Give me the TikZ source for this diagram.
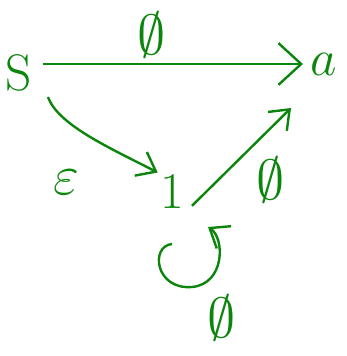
\documentclass[tikz,border=0pt]{standalone}
\usepackage{amsmath,amssymb}
\usetikzlibrary{arrows.meta,positioning}
\definecolor{penGreen}{HTML}{0C850C}
\begin{document}
\begin{tikzpicture}[x=0.75pt, y=-0.75pt,
  st/.style={text=penGreen, inner sep=1pt, font=\fontsize{24.88}{30}\selectfont, scale=1.55},
  lbl/.style={text=penGreen, inner sep=0pt, font=\fontsize{24.88}{30}\selectfont, scale=1.7},
  fl/.style={-{Straight Barb[length=6mm,width=11mm,line width=1.8pt]}, draw=penGreen, line width=1.8pt},
  fls/.style={-{Straight Barb[length=4.5mm,width=7mm,line width=1.8pt]}, draw=penGreen, line width=1.8pt}]
\useasboundingbox (0,0) rectangle (346,356);

% states
\node[st] (S) at (19,73) {S};
\node[st] (a) at (324,64) {$a$};
\node[st] (one) at (172,192) {1};

% transitions
\draw[fl, shorten <=6pt, shorten >=4pt] (S.east |- a) -- (a);
\node[lbl] (lsa) at (152,35) {$\emptyset$};

\coordinate (sb) at (48,97);
\draw[fls] (sb) .. controls (58,125) and (110,148) .. (one.north west);
\node[lbl] (lso) at (66,182) {$\varepsilon$};

\draw[fls, shorten <=6pt] (one.south east) -- (291,108);
\node[lbl] (loa) at (271,180) {$\emptyset$};

\coordinate (lpA) at (172,244);
\coordinate (lpB) at (208,227);
\draw[fls] (lpA) .. controls (150,246) and (155,290) .. (192,287)
  .. controls (225,284) and (225,238) .. (lpB);
\node[lbl] (loo) at (222,318) {$\emptyset$};
\end{tikzpicture}
\end{document}
